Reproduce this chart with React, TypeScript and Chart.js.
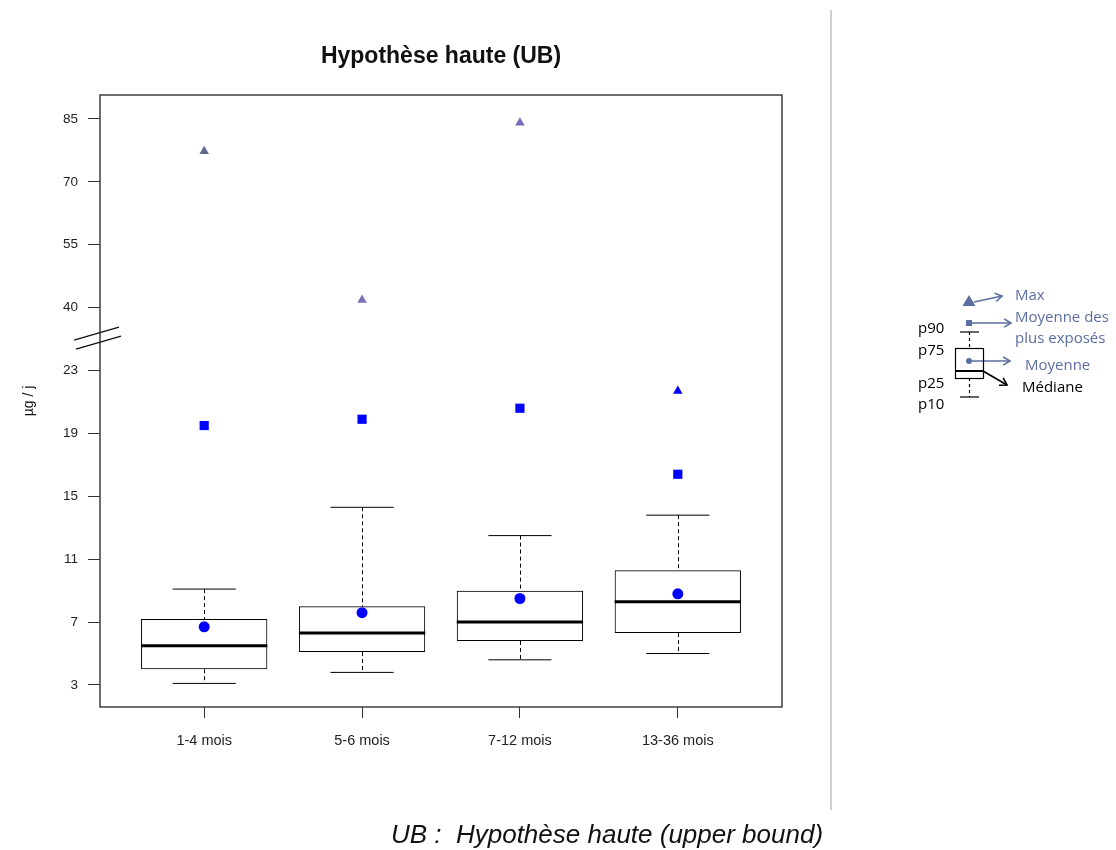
import React, { useEffect, useRef } from 'react';
import { Chart, registerables } from 'chart.js';

Chart.register(...registerables);

// ---------- data ----------
const categories = ['1-4 mois', '5-6 mois', '7-12 mois', '13-36 mois'];
const p10 = [3.1, 3.8, 4.6, 5.0];
const p25 = [4.0, 5.1, 5.8, 6.3];
const median = [5.5, 6.3, 7.0, 8.3];
const p75 = [7.2, 8.0, 9.0, 10.3];
const p90 = [9.1, 14.3, 12.5, 13.8];
const mean = [6.7, 7.6, 8.5, 8.8];
const meanTop = [19.5, 19.9, 20.6, 16.4];
const maxVal = [77.3, 41.8, 84.1, 21.7];
const maxColors = ['#606a90', '#7a72b6', '#786cba', '#0000ff'];
const yTicks = [3, 7, 11, 15, 19, 23, 40, 55, 70, 85];

const titleText = 'Hypothèse haute (UB)';
const yTitle = 'µg / j';
const caption = 'UB :  Hypothèse haute (upper bound)';

// piecewise mapping of a value onto the broken axis (one unit per tick interval)
function toAxis(v: number): number {
  const t = yTicks;
  let i = 0;
  while (i < t.length - 2 && v > t[i + 1]) i++;
  return i + (v - t[i]) / (t[i + 1] - t[i]);
}

const LEG = '#5b6ea0';

function line(ctx: CanvasRenderingContext2D, x1: number, y1: number, x2: number, y2: number) {
  ctx.beginPath();
  ctx.moveTo(x1, y1);
  ctx.lineTo(x2, y2);
  ctx.stroke();
}

function arrow(ctx: CanvasRenderingContext2D, x1: number, y1: number, x2: number, y2: number, color: string) {
  ctx.save();
  ctx.strokeStyle = color;
  ctx.lineWidth = 1.6;
  line(ctx, x1, y1, x2, y2);
  const a = Math.atan2(y2 - y1, x2 - x1);
  const h = 8;
  ctx.beginPath();
  ctx.moveTo(x2 - h * Math.cos(a - 0.55), y2 - h * Math.sin(a - 0.55));
  ctx.lineTo(x2, y2);
  ctx.lineTo(x2 - h * Math.cos(a + 0.55), y2 - h * Math.sin(a + 0.55));
  ctx.stroke();
  ctx.restore();
}

const boxPartsPlugin = {
  id: 'boxParts',
  beforeDatasetsDraw(chart: any) {
    const ctx: CanvasRenderingContext2D = chart.ctx;
    const x = chart.scales.x;
    const y = chart.scales.y;
    ctx.save();
    ctx.strokeStyle = '#000';
    categories.forEach((_, i) => {
      const c = i + 1;
      const cx = Math.round(x.getPixelForValue(c)) + 0.5;
      const capL = x.getPixelForValue(c - 0.2);
      const capR = x.getPixelForValue(c + 0.2);
      const boxL = x.getPixelForValue(c - 0.4);
      const boxR = x.getPixelForValue(c + 0.4);
      const y10 = y.getPixelForValue(toAxis(p10[i]));
      const y25 = y.getPixelForValue(toAxis(p25[i]));
      const y50 = y.getPixelForValue(toAxis(median[i]));
      const y75 = y.getPixelForValue(toAxis(p75[i]));
      const y90 = y.getPixelForValue(toAxis(p90[i]));
      ctx.lineWidth = 1;
      ctx.setLineDash([4, 3]);
      line(ctx, cx, y90, cx, y75);
      line(ctx, cx, y25, cx, y10);
      ctx.setLineDash([]);
      line(ctx, capL, y90, capR, y90);
      line(ctx, capL, y10, capR, y10);
      ctx.lineWidth = 3;
      line(ctx, boxL, y50, boxR, y50);
    });
    ctx.restore();
  },
};

const decorPlugin = {
  id: 'decor',
  afterDraw(chart: any) {
    const ctx: CanvasRenderingContext2D = chart.ctx;
    const area = chart.chartArea;
    const y = chart.scales.y;
    ctx.save();
    // plot frame
    ctx.strokeStyle = '#333';
    ctx.lineWidth = 1.4;
    ctx.strokeRect(area.left, area.top, area.right - area.left, area.bottom - area.top);

    // axis break marks
    const yb = y.getPixelForValue(5.5);
    ctx.strokeStyle = '#111';
    ctx.lineWidth = 1.3;
    line(ctx, area.left - 26, yb + 1, area.left + 19, yb - 12);
    line(ctx, area.left - 24, yb + 10, area.left + 21, yb - 3);

    // title
    ctx.fillStyle = '#111';
    ctx.textAlign = 'center';
    ctx.textBaseline = 'middle';
    ctx.font = 'bold 23px "Liberation Sans", Arial, sans-serif';
    ctx.fillText(titleText, (area.left + area.right) / 2, 57);

    // y title
    ctx.save();
    ctx.translate(29, (area.top + area.bottom) / 2);
    ctx.rotate(-Math.PI / 2);
    ctx.font = '14px "Liberation Sans", Arial, sans-serif';
    ctx.fillText(yTitle, 0, 0);
    ctx.restore();

    // separator
    ctx.strokeStyle = '#d0d0d0';
    ctx.lineWidth = 2;
    line(ctx, 831, 10, 831, 810);

    // caption
    ctx.fillStyle = '#111';
    ctx.font = 'italic 26px "Liberation Sans", Arial, sans-serif';
    ctx.textAlign = 'center';
    ctx.fillText(caption, 607, 836);

    // ---- legend schematic ----
    const lx = 969;
    ctx.fillStyle = LEG;
    ctx.beginPath();
    ctx.moveTo(lx, 295);
    ctx.lineTo(lx + 6.5, 306);
    ctx.lineTo(lx - 6.5, 306);
    ctx.closePath();
    ctx.fill();
    arrow(ctx, lx + 5, 302, 1002, 296, LEG);
    ctx.fillRect(lx - 3, 320, 6, 6);
    arrow(ctx, lx + 3, 323, 1011, 323, LEG);
    ctx.beginPath();
    ctx.arc(lx, 361, 3, 0, Math.PI * 2);
    ctx.fill();
    arrow(ctx, lx + 3, 361, 1010, 361, LEG);

    ctx.strokeStyle = '#000';
    ctx.lineWidth = 1.2;
    line(ctx, 960, 332, 979, 332);
    line(ctx, 960, 397, 979, 397);
    ctx.setLineDash([3, 3]);
    line(ctx, lx + 0.5, 332, lx + 0.5, 348);
    line(ctx, lx + 0.5, 378, lx + 0.5, 397);
    ctx.setLineDash([]);
    ctx.strokeRect(955.5, 348.5, 28, 30);
    ctx.lineWidth = 2;
    line(ctx, 955.5, 371, 983.5, 371);
    arrow(ctx, 983, 371, 1007, 385, '#000');

    ctx.textAlign = 'left';
    ctx.textBaseline = 'middle';
    ctx.font = '15px "Open Sans", "Noto Sans", sans-serif';
    ctx.fillStyle = LEG;
    ctx.fillText('Max', 1015, 296);
    ctx.fillText('Moyenne des', 1015, 318);
    ctx.fillText('plus exposés', 1015, 339);
    ctx.fillText('Moyenne', 1025, 366);
    ctx.fillStyle = '#000';
    ctx.fillText('Médiane', 1022, 388);
    ctx.fillText('p90', 918, 329);
    ctx.fillText('p75', 918, 351);
    ctx.fillText('p25', 918, 384);
    ctx.fillText('p10', 918, 405);
    ctx.restore();
  },
};

export default function App() {
  const ref = useRef<HTMLCanvasElement | null>(null);

  useEffect(() => {
    if (!ref.current) return;
    const chart = new Chart(ref.current, {
      type: 'bar',
      data: {
        datasets: [
          {
            type: 'scatter',
            label: 'Max',
            data: categories.map((_, i) => ({ x: i + 1, y: toAxis(maxVal[i]) })),
            pointStyle: 'triangle',
            pointRadius: 5.5,
            backgroundColor: maxColors,
            borderColor: maxColors,
            borderWidth: 0,
            order: 0,
          } as any,
          {
            type: 'scatter',
            label: 'Moyenne des plus exposés',
            data: categories.map((_, i) => ({ x: i + 1, y: toAxis(meanTop[i]) })),
            pointStyle: 'rect',
            pointRadius: 6.5,
            backgroundColor: '#0000ff',
            borderColor: '#0000ff',
            borderWidth: 0,
            order: 0,
          } as any,
          {
            type: 'scatter',
            label: 'Moyenne',
            data: categories.map((_, i) => ({ x: i + 1, y: toAxis(mean[i]) })),
            pointStyle: 'circle',
            pointRadius: 5.5,
            backgroundColor: '#0000ff',
            borderColor: '#0000ff',
            borderWidth: 0,
            order: 0,
          } as any,
          {
            type: 'bar',
            label: 'p25-p75',
            data: categories.map((_, i) => ({ x: i + 1, y: [toAxis(p25[i]), toAxis(p75[i])] })),
            backgroundColor: 'rgba(0,0,0,0)',
            borderColor: '#000',
            borderWidth: 1,
            borderSkipped: false,
            barPercentage: 0.8,
            categoryPercentage: 1,
            order: 5,
          } as any,
        ],
      },
      options: {
        animation: false,
        responsive: false,
        devicePixelRatio: 1,
        events: [],
        layout: { padding: { left: 0, top: 95, right: 334, bottom: 0 } },
        plugins: { legend: { display: false }, tooltip: { enabled: false }, title: { display: false } },
        scales: {
          x: {
            type: 'linear',
            min: 0.34,
            max: 4.66,
            offset: false,
            afterFit: (s: any) => { s.height = 143; },
            afterBuildTicks: (s: any) => { s.ticks = categories.map((_, i) => ({ value: i + 1 })); },
            grid: { drawOnChartArea: false, drawTicks: true, tickLength: 11, color: '#333', offset: false },
            border: { display: false },
            ticks: {
              padding: 14,
              color: '#222',
              font: { family: '"Liberation Sans", Arial, sans-serif', size: 14.5 },
              maxRotation: 0,
              autoSkip: false,
              callback: (v: any) => categories[Math.round(Number(v)) - 1] ?? '',
            },
          },
          y: {
            type: 'linear',
            min: -0.35,
            max: 9.38,
            afterFit: (s: any) => { s.width = 100; },
            afterBuildTicks: (s: any) => { s.ticks = yTicks.map((_, i) => ({ value: i })); },
            grid: { drawOnChartArea: false, drawTicks: true, tickLength: 12, color: '#333' },
            border: { display: false },
            ticks: {
              padding: 10,
              color: '#222',
              autoSkip: false,
              font: { family: '"Liberation Sans", Arial, sans-serif', size: 13.5 },
              callback: (v: any) => String(yTicks[Math.round(Number(v))] ?? ''),
            },
          },
        },
      } as any,
      plugins: [boxPartsPlugin, decorPlugin],
    });
    return () => chart.destroy();
  }, []);

  return (
    <div style={{ position: 'absolute', left: 0, top: 0, width: 1116, height: 850, background: '#fff' }}>
      <canvas ref={ref} width={1116} height={850} style={{ display: 'block', width: 1116, height: 850 }} />
    </div>
  );
}
